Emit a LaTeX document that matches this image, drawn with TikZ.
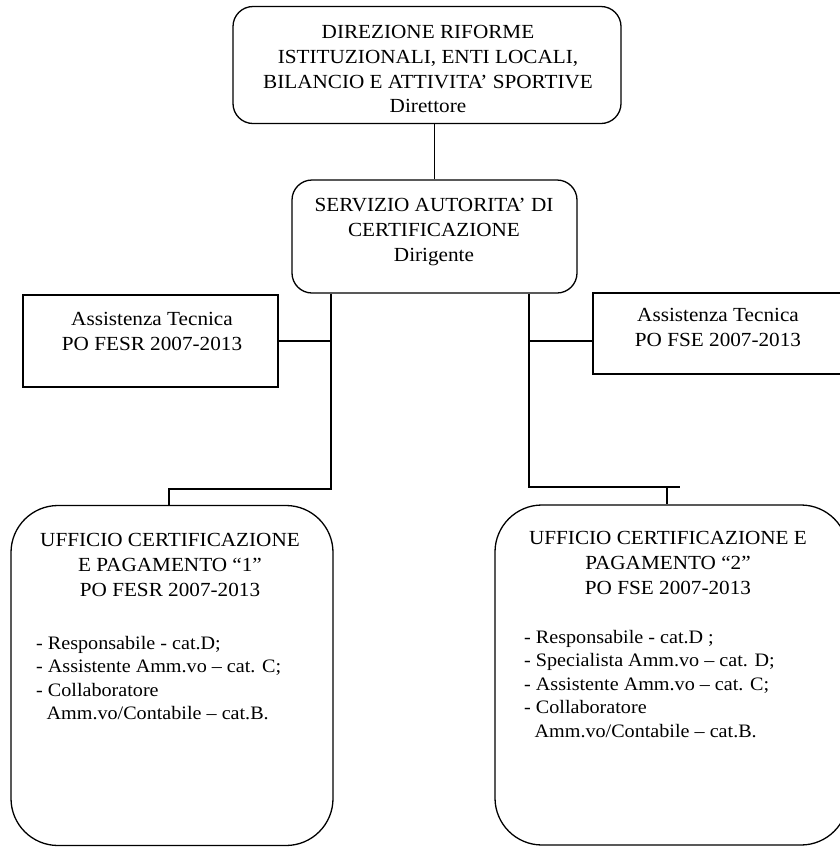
\documentclass[tikz,border=0pt]{standalone}
\usepackage{fontspec}
\setmainfont[FakeStretch=1.06]{Liberation Serif}
\begin{document}
\begin{tikzpicture}[x=1pt,y=-1pt,
  box/.style={draw,line width=1.3pt,inner sep=0pt},
  conn/.style={line width=1.3pt},
  txt/.style={font=\fontsize{20}{24.8}\selectfont,align=center,inner sep=0pt,anchor=north},
  ltxt/.style={font=\fontsize{19}{23.5}\selectfont,align=left,inner sep=0pt,anchor=north west}]
\useasboundingbox (0,0) rectangle (839,847);
\fill[white] (0,0) rectangle (839,847);
% boxes
\node[box,rounded corners=20pt,minimum width=388pt,minimum height=117pt] (top) at (427,65) {};
\node[box,rounded corners=20pt,minimum width=285pt,minimum height=113pt] (mid) at (434.5,236.5) {};
\node[box,minimum width=255pt,minimum height=92pt] (asl) at (150.5,341) {};
\node[box,minimum width=250pt,minimum height=81pt] (asr) at (718,333.5) {};
\node[box,rounded corners=47pt,minimum width=322pt,minimum height=340pt] (ufl) at (172,675.5) {};
\node[box,rounded corners=47pt,minimum width=353pt,minimum height=340pt] (ufr) at (671.5,675) {};
% texts
\node[txt] (ttop) at (428,25) {DIREZIONE RIFORME\\ISTITUZIONALI, ENTI LOCALI,\\BILANCIO E ATTIVITA’ SPORTIVE\\Direttore};
\node[txt] (tmid) at (434,198) {SERVIZIO AUTORITA’ DI\\CERTIFICAZIONE\\Dirigente};
\node[txt] (tasl) at (152,312) {Assistenza Tecnica\\PO FESR 2007-2013};
\node[txt] (tasr) at (718,308) {Assistenza Tecnica\\PO FSE 2007-2013};
\node[txt] (tufl) at (170,533) {UFFICIO CERTIFICAZIONE\\E PAGAMENTO “1”\\PO FESR 2007-2013};
\node[txt] (tufr) at (668,531) {UFFICIO CERTIFICAZIONE E\\PAGAMENTO “2”\\PO FSE 2007-2013};
\node[ltxt] (lufl) at (36,636) {- Responsabile - cat.D;\\- Assistente Amm.vo -- cat. C;\\- Collaboratore\\\hspace{0.55em}Amm.vo/Contabile -- cat.B.};
\node[ltxt] (lufr) at (524,630) {- Responsabile - cat.D ;\\- Specialista Amm.vo -- cat. D;\\- Assistente Amm.vo -- cat. C;\\- Collaboratore\\\hspace{0.55em}Amm.vo/Contabile -- cat.B.};
% connectors
\coordinate (jl) at (331,489);
\coordinate (jl2) at (169,489);
\coordinate (jr) at (529,487);
\coordinate (jre) at (680,487);
\coordinate (jr2) at (667,487);
\draw[conn] (mid.north) -- (mid.north |- top.south);
\draw[conn] (mid.south -| jl) -- (jl) -- (jl2) -- (jl2 |- ufl.north);
\draw[conn] (asl.east) -- (asl.east -| jl);
\draw[conn] (mid.south -| jr) -- (jr) -- (jre);
\draw[conn] (jr2) -- (jr2 |- ufr.north);
\draw[conn] (jr |- asl.east) -- (asr.west |- asl.east);
\end{tikzpicture}
\end{document}
